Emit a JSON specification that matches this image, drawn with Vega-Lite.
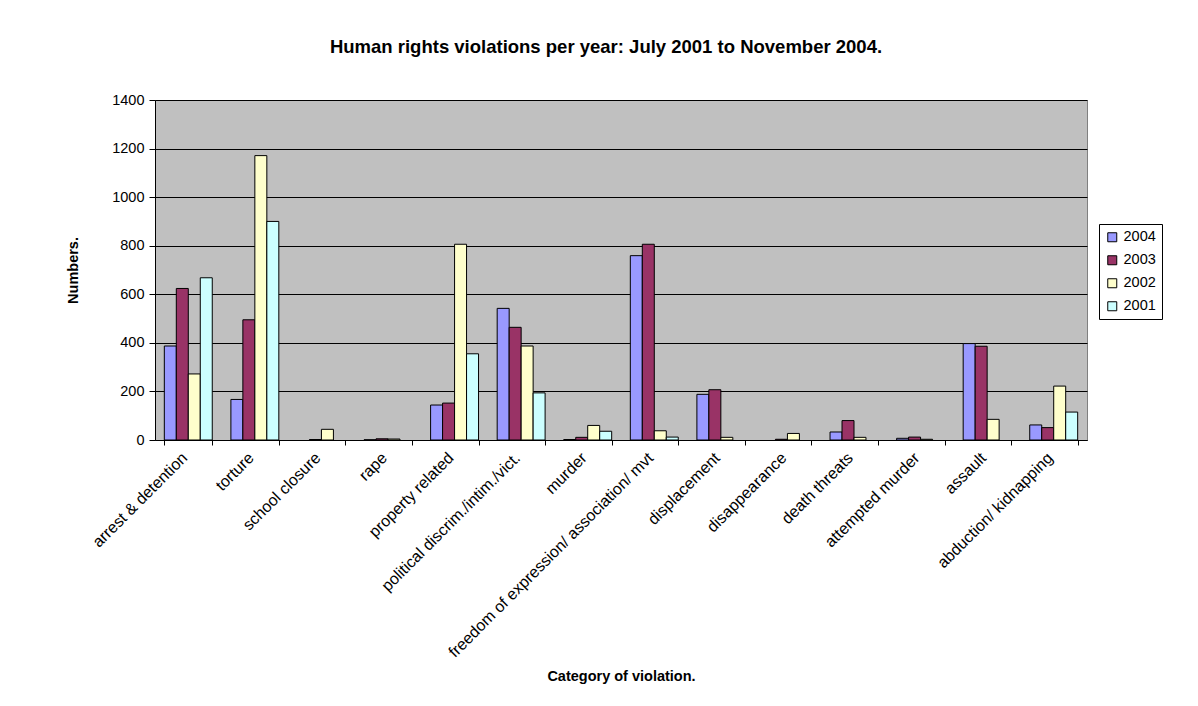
{
  "$schema": "https://vega.github.io/schema/vega-lite/v6.json",
  "autosize": {"type": "none"},
  "padding": {"left": 155, "top": 100, "right": 111, "bottom": 266},
  "width": 932,
  "height": 340,
  "background": "white",
  "title": {
    "text": "Human rights violations per year: July 2001 to November 2004.",
    "font": "Liberation Sans",
    "fontSize": 18.5,
    "fontWeight": "bold",
    "color": "black",
    "anchor": "middle",
    "frame": "group",
    "baseline": "alphabetic",
    "offset": 21,
    "dx": -15
  },
  "data": {
    "values": [
      {"category": "arrest & detention", "year": "2004", "count": 387},
      {"category": "arrest & detention", "year": "2003", "count": 624},
      {"category": "arrest & detention", "year": "2002", "count": 272},
      {"category": "arrest & detention", "year": "2001", "count": 668},
      {"category": "torture", "year": "2004", "count": 167},
      {"category": "torture", "year": "2003", "count": 495},
      {"category": "torture", "year": "2002", "count": 1171},
      {"category": "torture", "year": "2001", "count": 900},
      {"category": "school closure", "year": "2003", "count": 2},
      {"category": "school closure", "year": "2002", "count": 44},
      {"category": "rape", "year": "2004", "count": 1},
      {"category": "rape", "year": "2003", "count": 5},
      {"category": "rape", "year": "2002", "count": 4},
      {"category": "property related", "year": "2004", "count": 144},
      {"category": "property related", "year": "2003", "count": 152},
      {"category": "property related", "year": "2002", "count": 806},
      {"category": "property related", "year": "2001", "count": 355},
      {"category": "political discrim./intim./vict.", "year": "2004", "count": 542},
      {"category": "political discrim./intim./vict.", "year": "2003", "count": 464},
      {"category": "political discrim./intim./vict.", "year": "2002", "count": 387},
      {"category": "political discrim./intim./vict.", "year": "2001", "count": 194},
      {"category": "murder", "year": "2004", "count": 2},
      {"category": "murder", "year": "2003", "count": 11},
      {"category": "murder", "year": "2002", "count": 60},
      {"category": "murder", "year": "2001", "count": 36},
      {"category": "freedom of expression/ association/ mvt", "year": "2004", "count": 759},
      {"category": "freedom of expression/ association/ mvt", "year": "2003", "count": 806},
      {"category": "freedom of expression/ association/ mvt", "year": "2002", "count": 38},
      {"category": "freedom of expression/ association/ mvt", "year": "2001", "count": 12},
      {"category": "displacement", "year": "2004", "count": 188},
      {"category": "displacement", "year": "2003", "count": 207},
      {"category": "displacement", "year": "2002", "count": 11},
      {"category": "disappearance", "year": "2003", "count": 3},
      {"category": "disappearance", "year": "2002", "count": 27},
      {"category": "death threats", "year": "2004", "count": 33},
      {"category": "death threats", "year": "2003", "count": 80},
      {"category": "death threats", "year": "2002", "count": 11},
      {"category": "attempted murder", "year": "2004", "count": 7},
      {"category": "attempted murder", "year": "2003", "count": 12},
      {"category": "attempted murder", "year": "2002", "count": 3},
      {"category": "assault", "year": "2004", "count": 397},
      {"category": "assault", "year": "2003", "count": 386},
      {"category": "assault", "year": "2002", "count": 85},
      {"category": "abduction/ kidnapping", "year": "2004", "count": 62},
      {"category": "abduction/ kidnapping", "year": "2003", "count": 51},
      {"category": "abduction/ kidnapping", "year": "2002", "count": 222},
      {"category": "abduction/ kidnapping", "year": "2001", "count": 115}
    ]
  },
  "mark": {"type": "bar", "stroke": "black", "strokeWidth": 1},
  "encoding": {
    "x": {
      "field": "category",
      "type": "nominal",
      "sort": ["arrest & detention", "torture", "school closure", "rape", "property related", "political discrim./intim./vict.", "murder", "freedom of expression/ association/ mvt", "displacement", "disappearance", "death threats", "attempted murder", "assault", "abduction/ kidnapping"],
      "scale": {"paddingInner": 0.28, "paddingOuter": 0.14},
      "axis": {
        "title": "Category of violation.",
        "titleFont": "Liberation Sans",
        "titleFontSize": 14.5,
        "titleFontWeight": "bold",
        "titleColor": "black",
        "titlePadding": 29,
        "labelFont": "Liberation Sans",
        "labelFontSize": 16,
        "labelColor": "black",
        "labelAngle": -45,
        "labelAlign": "right",
        "labelBaseline": "middle",
        "labelPadding": 10,
        "labelOffset": -4,
        "labelLimit": 400,
        "tickBand": "extent",
        "tickColor": "black",
        "tickSize": 5,
        "domainColor": "black",
        "grid": false
      }
    },
    "xOffset": {
      "field": "year",
      "type": "nominal",
      "scale": {"domain": ["2004", "2003", "2002", "2001"], "paddingInner": 0, "paddingOuter": 0}
    },
    "y": {
      "field": "count",
      "type": "quantitative",
      "scale": {"domain": [0, 1400]},
      "axis": {
        "title": "Numbers.",
        "titleFont": "Liberation Sans",
        "titleFontSize": 14.5,
        "titleFontWeight": "bold",
        "titleColor": "black",
        "titlePadding": 31,
        "labelFont": "Liberation Sans",
        "labelFontSize": 14.5,
        "labelColor": "black",
        "labelPadding": 5,
        "values": [0, 200, 400, 600, 800, 1000, 1200, 1400],
        "format": "d",
        "tickColor": "black",
        "tickSize": 6,
        "domainColor": "black",
        "grid": true,
        "gridColor": "black",
        "gridWidth": 1,
        "gridOpacity": 1
      }
    },
    "fill": {
      "field": "year",
      "type": "nominal",
      "scale": {"domain": ["2004", "2003", "2002", "2001"], "range": ["#9999FF", "#993366", "#FFFFCC", "#CCFFFF"]},
      "legend": {
        "title": null,
        "orient": "none",
        "legendX": 944,
        "legendY": 124,
        "symbolType": "square",
        "symbolSize": 81,
        "symbolStrokeColor": "black",
        "symbolStrokeWidth": 1,
        "labelFont": "Liberation Sans",
        "labelFontSize": 14.5,
        "labelColor": "black",
        "labelOffset": 4,
        "rowPadding": 8,
        "padding": 6,
        "strokeColor": "black",
        "fillColor": "white"
      }
    }
  },
  "config": {
    "view": {"fill": "#C0C0C0", "stroke": "#808080", "strokeWidth": 1}
  }
}
